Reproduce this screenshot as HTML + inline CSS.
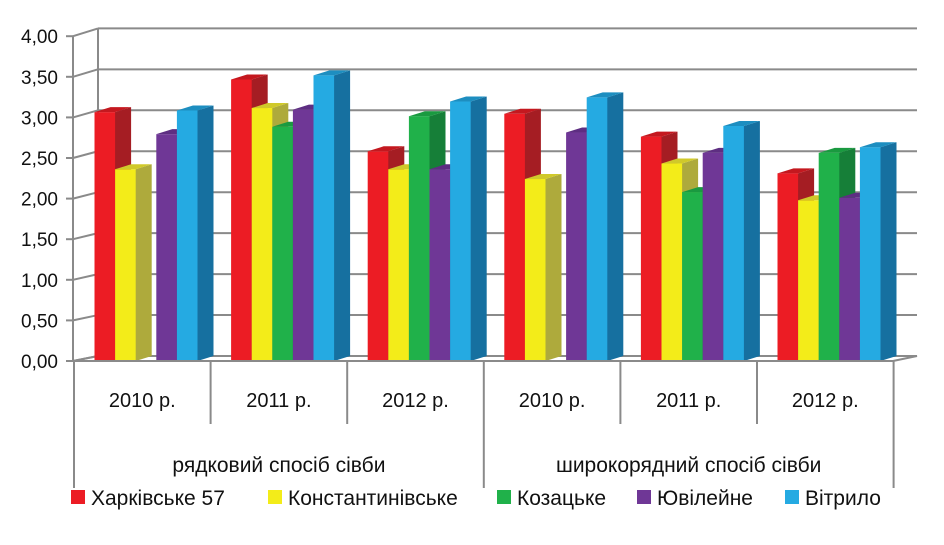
<!DOCTYPE html>
<html><head><meta charset="utf-8"><style>
body{margin:0;background:#fff;}
svg text{font-family:"Liberation Sans","DejaVu Sans",sans-serif;fill:#111;}
</style></head><body>
<svg id="s" width="944" height="540" xmlns="http://www.w3.org/2000/svg"></svg>
<script>
var s=document.getElementById('s'),h='';
function yF(v){return 361-v*81.6;}
function yB(v){return 356-v*81.9;}
function yT(v){return 361-v*81.2;}
for(var i=0;i<=8;i++){var v=i*0.5;
 h+='<line x1="73" y1="'+yT(v)+'" x2="98" y2="'+yB(v)+'" stroke="#8a8a8a" stroke-width="2"/>';
 if(i>0)h+='<line x1="98" y1="'+yB(v)+'" x2="917" y2="'+yB(v)+'" stroke="#8a8a8a" stroke-width="2"/>';
 h+='<line x1="66" y1="'+yT(v)+'" x2="73" y2="'+yT(v)+'" stroke="#8a8a8a" stroke-width="2"/>';
 h+='<text x="58" y="'+(yT(v)+7)+'" font-size="19" text-anchor="end">'+v.toFixed(2).replace('.',',')+'</text>';}
h+='<line x1="73" y1="'+yT(4)+'" x2="73" y2="361" stroke="#8a8a8a" stroke-width="2"/>';
h+='<line x1="98" y1="'+yB(4)+'" x2="98" y2="356" stroke="#8a8a8a" stroke-width="2"/>';
h+='<polyline points="73,361 98,356 917,356 893,361" fill="none" stroke="#8a8a8a" stroke-width="2"/>';
var cols=[['#ec1c24','#a51d23','#c4181f'],['#f3ec19','#aeaa3c','#d0c92a'],['#20b14a','#167f38','#1a9a40'],['#6f3796','#4e2670','#5e2e82'],['#25aae2','#1670a0','#1d8ec0']];
var data=[[3.05,2.35,0,2.78,3.07],[3.45,3.10,2.87,3.08,3.50],[2.57,2.35,3.00,2.35,3.18],[3.03,2.23,0,2.80,3.23],[2.75,2.42,2.07,2.55,2.88],[2.30,1.97,2.55,2.00,2.62]];
var W=136.6,bw=20.6,dx=16,dy=5;
for(var g=0;g<6;g++)for(var b=0;b<5;b++){var v=data[g][b];if(!v)continue;
 var x=75+g*W+19.5+b*bw,t=yF(v),c=cols[b];
 h+='<rect x="'+x+'" y="'+t+'" width="'+(bw+0.5)+'" height="'+(361-t)+'" fill="'+c[0]+'"/>';
 h+='<polygon points="'+(x+bw)+','+t+' '+(x+bw+dx)+','+(t-dy)+' '+(x+bw+dx)+','+(361-dy)+' '+(x+bw)+',361" fill="'+c[1]+'"/>';
 h+='<polygon points="'+x+','+t+' '+(x+dx)+','+(t-dy)+' '+(x+bw+dx)+','+(t-dy)+' '+(x+bw)+','+t+'" fill="'+c[2]+'"/>';}
h+='<line x1="66" y1="361" x2="893" y2="361" stroke="#8a8a8a" stroke-width="2"/>';
var yrs=['2010 р.','2011 р.','2012 р.'];
for(var g=0;g<=6;g++){var x=74+g*W;var full=(g==0||g==3||g==6);
 h+='<line x1="'+x+'" y1="361" x2="'+x+'" y2="'+(full?488:424)+'" stroke="#8a8a8a" stroke-width="2"/>';
 if(g<6)h+='<text x="'+(x+W/2)+'" y="407" font-size="20" text-anchor="middle">'+yrs[g%3]+'</text>';}
h+='<text x="'+(74+1.5*W)+'" y="472" font-size="21" text-anchor="middle">рядковий спосіб сівби</text>';
h+='<text x="'+(74+4.5*W)+'" y="472" font-size="21" text-anchor="middle">широкорядний спосіб сівби</text>';
var leg=[['Харківське 57',71],['Константинівське',268],['Козацьке',497],['Ювілейне',637],['Вітрило',785]];
for(var i=0;i<5;i++){h+='<rect x="'+leg[i][1]+'" y="490" width="14" height="14" fill="'+cols[i][0]+'"/>';
 h+='<text x="'+(leg[i][1]+20)+'" y="505" font-size="21">'+leg[i][0]+'</text>';}
s.innerHTML=h;
</script>
</body></html>
